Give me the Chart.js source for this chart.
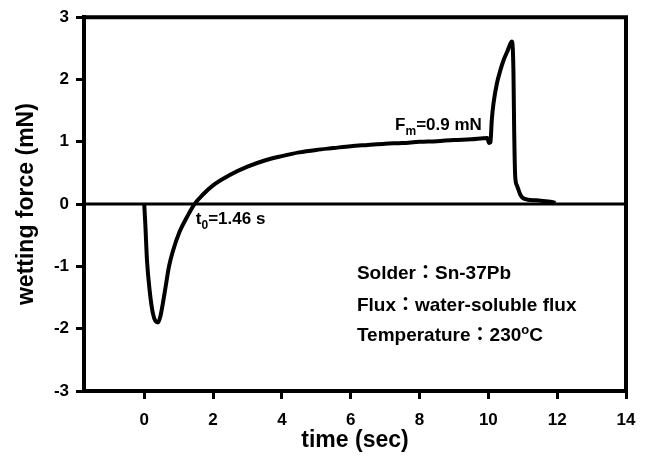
<!DOCTYPE html>
<html>
<head>
<meta charset="utf-8">
<script src="https://cdn.jsdelivr.net/npm/chart.js@4.4.0/dist/chart.umd.min.js"></script>
<style>
  html, body { margin: 0; padding: 0; background: #fff; }
  canvas { display: block; }
</style>
</head>
<body>
<canvas id="wetting" width="650" height="464"></canvas>
<script>
// wetting balance curve: Sn-37Pb, water-soluble flux, 230 C
const time = [0, 0.03, 0.08, 0.16, 0.25, 0.33, 0.4, 0.47, 0.6, 0.72, 0.83, 1.03, 1.25, 1.46, 1.7,
    2.0, 2.5, 3.0, 3.5, 4.0, 4.5, 5.0, 5.5, 6.0, 6.5, 7.0, 7.5, 8.0, 8.5, 9.0, 9.5, 9.97,
    10.02, 10.06, 10.1, 10.15, 10.25, 10.35, 10.45, 10.55, 10.63, 10.68, 10.71, 10.73, 10.75,
    10.78, 10.83, 10.93, 11.0, 11.15, 11.4, 11.6, 11.8, 11.95];
const force = [0, -0.3, -0.9, -1.4, -1.75, -1.88, -1.9, -1.8, -1.4, -1.0, -0.76, -0.44, -0.2, 0, 0.15,
    0.3, 0.47, 0.6, 0.7, 0.77, 0.83, 0.87, 0.9, 0.93, 0.95, 0.97, 0.98, 1.0, 1.01, 1.03, 1.04, 1.06,
    0.98, 0.99, 1.35, 1.62, 1.94, 2.15, 2.32, 2.45, 2.56, 2.61, 2.5, 2.1, 1.2,
    0.45, 0.3, 0.15, 0.1, 0.07, 0.06, 0.05, 0.04, 0.02];
const xTicks = [0, 2, 4, 6, 8, 10, 12, 14];
const yTicks = [-3, -2, -1, 0, 1, 2, 3];
const xRange = [-1.75, 14];
const yRange = [-3, 3];

// the fullwidth colon falls back to the TC face, which centres it
const FONT = '"Liberation Sans", Arial, "Noto Sans CJK TC", sans-serif';

const points = time.map((t, i) => ({ x: t, y: force[i] }));

// text inside the plot, anchored in data units; parts are [text, 'sub' | 'sup' | '']
const notes = [
    { x: 7.29, y: 1.19, size: 17, parts: [['F', ''], ['m', 'sub'], ['=0.9 mN', '']] },
    { x: 1.50, y: -0.32, size: 17, parts: [['t', ''], ['0', 'sub'], ['=1.46 s', '']] },
    { x: 6.18, y: -1.21, size: 19, parts: [['Solder：Sn-37Pb', '']] },
    { x: 6.18, y: -1.71, size: 19, parts: [['Flux：water-soluble flux', '']] },
    { x: 6.18, y: -2.19, size: 19, parts: [['Temperature：230', ''], ['o', 'sup'], ['C', '']] }
];

const frame = {
    id: 'frame',
    beforeDatasetsDraw(chart) {
        const { ctx, chartArea: a, scales: { y } } = chart;
        const y0 = y.getPixelForValue(0);
        ctx.save();
        ctx.strokeStyle = '#000';
        ctx.lineWidth = 3;
        ctx.beginPath();
        ctx.moveTo(a.left, y0);
        ctx.lineTo(a.right, y0);
        ctx.stroke();
        ctx.lineWidth = 4;
        ctx.beginPath();
        ctx.moveTo(a.left - 2, a.top);
        ctx.lineTo(a.right, a.top);
        ctx.lineTo(a.right, a.bottom + 2);
        ctx.stroke();
        ctx.restore();
    },
    afterDatasetsDraw(chart) {
        const { ctx, scales: { x, y } } = chart;
        ctx.save();
        ctx.fillStyle = '#000';
        ctx.textBaseline = 'alphabetic';
        notes.forEach(n => {
            let px = x.getPixelForValue(n.x);
            const py = y.getPixelForValue(n.y);
            n.parts.forEach(([text, kind]) => {
                const size = kind ? Math.round(n.size * 0.7) : n.size;
                const dy = kind === 'sub' ? 5 : kind === 'sup' ? -7 : 0;
                ctx.font = `bold ${size}px ${FONT}`;
                ctx.fillText(text, px, py + dy);
                px += ctx.measureText(text).width;
            });
        });
        ctx.restore();
    }
};

const tickFont = { family: FONT, size: 17, weight: 'bold' };
const titleFont = { family: FONT, size: 23, weight: 'bold' };

new Chart(document.getElementById('wetting'), {
    type: 'scatter',
    data: {
        datasets: [{
            data: points,
            showLine: true,
            borderColor: '#000',
            borderWidth: 4,
            pointRadius: 0,
            cubicInterpolationMode: 'monotone',
            fill: false
        }]
    },
    options: {
        responsive: false,
        animation: false,
        layout: { padding: { top: 13, right: 24, left: 0, bottom: 0 } },
        plugins: { legend: { display: false }, tooltip: { enabled: false } },
        scales: {
            x: {
                type: 'linear',
                min: xRange[0],
                max: xRange[1],
                afterBuildTicks: s => { s.ticks = xTicks.map(v => ({ value: v })); },
                afterFit: s => { s.height = 73; },
                grid: { drawOnChartArea: false, tickLength: 8, tickWidth: 3, color: '#000' },
                border: { color: '#000', width: 4 },
                ticks: { color: '#000', font: tickFont, padding: 11, maxRotation: 0 },
                title: { display: true, text: 'time (sec)', color: '#000', font: titleFont, padding: { top: 0, bottom: 10 } }
            },
            y: {
                type: 'linear',
                min: yRange[0],
                max: yRange[1],
                afterBuildTicks: s => { s.ticks = yTicks.map(v => ({ value: v })); },
                afterFit: s => { s.width = 84; },
                grid: { drawOnChartArea: false, tickLength: 8, tickWidth: 3, color: '#000' },
                border: { color: '#000', width: 4 },
                ticks: { color: '#000', font: tickFont, padding: 7 },
                title: { display: true, text: 'wetting force (mN)', color: '#000', font: titleFont, padding: { top: 13, bottom: 0 } }
            }
        }
    },
    plugins: [frame]
});
</script>
</body>
</html>
